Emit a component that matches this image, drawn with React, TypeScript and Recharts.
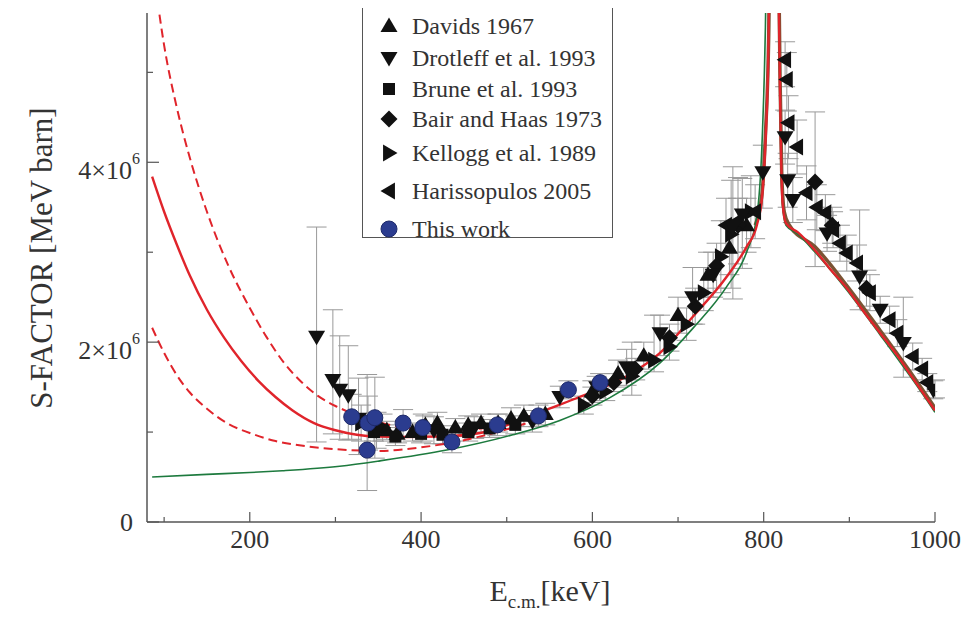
import React from "react";
import { ComposedChart, Line, Scatter, XAxis, YAxis, ErrorBar } from "recharts";

// ---------- data (S in units of 10^6 MeV b, E in keV) ----------
const X_TICKS = [100, 200, 300, 400, 500, 600, 700, 800, 900, 1000];
const X_LABELED = [200, 400, 600, 800, 1000];
const Y_TICKS = [0, 1, 2, 3, 4, 5];
const Y_LABELS: Record<number, string> = { 0: "0", 2: "2×10", 4: "4×10" };

const centralCurve = [
  [86, 3.84], [100, 3.45], [115, 3.08], [130, 2.74], [150, 2.36], [170, 2.05], [190, 1.79],
  [210, 1.57], [230, 1.39], [250, 1.24], [275, 1.1], [300, 1.02], [325, 0.97], [350, 0.95],
  [380, 0.945], [420, 0.95], [469, 0.99], [507, 1.1], [547, 1.25], [585, 1.39], [640, 1.62],
  [679, 1.88], [717, 2.28], [757, 2.73], [780, 3.06], [792, 3.3], [798, 3.6], [802, 4.2],
  [805, 5.0], [808, 6.8], [811, 9.0], [815, 8.0], [818, 5.5], [820, 4.2], [822, 3.55],
  [826, 3.32], [840, 3.22], [860, 3.02], [877, 2.82], [897, 2.6], [916, 2.35], [936, 2.1],
  [956, 1.85], [974, 1.6], [1000, 1.24],
];
const upperCurve = [
  [90, 5.95], [100, 5.3], [115, 4.6], [130, 4.05], [150, 3.45], [175, 2.85], [200, 2.38],
  [220, 2.05], [240, 1.77], [260, 1.56], [280, 1.4], [300, 1.29], [325, 1.19], [350, 1.11],
  [380, 1.05], [420, 1.02], [460, 1.03], [500, 1.1],
];
const lowerCurve = [
  [86, 2.16], [100, 1.88], [115, 1.63], [130, 1.44], [150, 1.26], [175, 1.09], [200, 0.99],
  [230, 0.9], [260, 0.85], [300, 0.81], [350, 0.79], [400, 0.83], [450, 0.91], [500, 1.03],
  [530, 1.12],
];
const greenCurve = [
  [86, 0.5], [150, 0.53], [200, 0.55], [238, 0.57], [305, 0.62], [352, 0.68], [430, 0.8],
  [507, 0.97], [562, 1.13], [620, 1.38], [679, 1.77], [717, 2.15], [757, 2.62], [780, 3.0],
  [792, 3.4], [798, 4.2], [802, 5.5], [805, 7.5], [808, 9], [814, 9], [818, 5.5], [820, 4.1],
  [822, 3.52], [826, 3.3], [840, 3.2], [860, 3.0], [897, 2.58], [936, 2.08], [974, 1.58],
  [1000, 1.22],
];
const brownCurve = [
  [790, 3.3], [798, 3.65], [802, 4.3], [806, 5.5], [809, 8], [812, 9.5], [816, 7.5],
  [819, 5.0], [821, 3.9], [824, 3.45], [830, 3.3], [860, 3.06], [897, 2.63], [936, 2.13],
  [974, 1.63], [1000, 1.27],
];

// points: [E, S, errMinus, errPlus]
const davids = [
  [360, 1.02, 0.1, 0.1], [372, 0.98, 0.1, 0.1], [390, 1.0, 0.1, 0.1], [405, 1.08, 0.1, 0.1],
  [419, 1.1, 0.12, 0.12], [440, 1.05, 0.1, 0.1], [455, 1.08, 0.1, 0.1], [470, 1.1, 0.1, 0.1],
  [490, 1.1, 0.1, 0.1], [505, 1.15, 0.12, 0.12], [520, 1.18, 0.12, 0.12], [545, 1.2, 0.12, 0.12],
  [600, 1.45, 0.12, 0.12], [630, 1.65, 0.15, 0.15], [660, 1.85, 0.15, 0.15], [700, 2.3, 0.2, 0.2],
  [735, 2.75, 0.25, 0.25], [760, 3.05, 0.3, 0.3], [780, 3.3, 0.3, 0.3],
];
const drotleff = [
  [278, 2.06, 1.17, 1.22], [297, 1.58, 0.6, 0.78], [305, 1.47, 0.55, 0.6], [315, 1.41, 0.5, 0.55],
  [327, 1.15, 0.4, 0.45], [348, 1.02, 0.2, 0.2], [415, 1.02, 0.15, 0.15], [462, 1.05, 0.12, 0.12],
  [530, 1.12, 0.12, 0.12], [562, 1.39, 0.12, 0.12], [605, 1.5, 0.12, 0.12], [640, 1.72, 0.2, 0.2],
  [679, 2.1, 0.25, 0.2], [717, 2.5, 0.3, 0.33], [741, 2.75, 0.25, 0.25], [764, 3.28, 0.8, 0.67],
  [775, 3.42, 0.6, 0.4], [799, 3.89, 0.4, 0.3], [825, 4.28, 0.3, 0.3], [828, 3.8, 0.3, 0.3],
  [834, 3.58, 0.25, 0.25], [874, 3.21, 0.2, 0.2], [912, 2.73, 0.37, 0.74], [936, 2.36, 0.15, 0.15],
  [963, 1.99, 0.38, 0.51], [998, 1.47, 0.1, 0.1],
];
const brune = [
  [345, 1.0, 0.1, 0.1], [370, 0.95, 0.1, 0.1], [400, 0.98, 0.1, 0.1], [425, 0.97, 0.1, 0.1],
  [455, 1.0, 0.1, 0.1], [480, 1.04, 0.1, 0.1], [510, 1.08, 0.1, 0.1],
];
const bairHaas = [
  [600, 1.4, 0.1, 0.1], [625, 1.55, 0.1, 0.1], [650, 1.7, 0.12, 0.12], [690, 2.05, 0.15, 0.15],
  [720, 2.4, 0.2, 0.2], [745, 2.85, 0.25, 0.25], [770, 3.3, 0.3, 0.3], [860, 3.78, 0.94, 0.78],
  [880, 3.3, 0.2, 0.2], [920, 2.6, 0.2, 0.2],
];
const kellogg = [
  [330, 1.1, 0.2, 0.2], [355, 1.05, 0.15, 0.15], [590, 1.3, 0.1, 0.1], [615, 1.45, 0.1, 0.1],
  [646, 1.62, 0.21, 0.38], [672, 1.8, 0.13, 0.5], [690, 1.95, 0.15, 0.15], [710, 2.2, 0.18, 0.18],
  [730, 2.55, 0.2, 0.28], [750, 2.95, 0.4, 0.4], [762, 3.2, 0.6, 0.6], [785, 3.45, 0.4, 0.4],
];
const harissopulos = [
  [756, 3.3, 0.3, 0.3], [770, 3.35, 0.48, 0.48], [790, 3.45, 0.3, 0.3], [825, 5.14, 0.3, 0.2],
  [827, 4.92, 0.35, 0.3], [829, 4.44, 0.4, 0.3], [839, 4.17, 0.3, 0.3], [850, 3.66, 0.3, 0.3],
  [862, 3.5, 0.25, 0.25], [872, 3.44, 0.2, 0.2], [881, 3.25, 0.2, 0.2], [889, 3.1, 0.2, 0.2],
  [897, 2.99, 0.2, 0.2], [909, 2.88, 0.2, 0.2], [924, 2.55, 0.2, 0.2], [947, 2.25, 0.15, 0.15],
  [956, 2.1, 0.15, 0.15], [974, 1.84, 0.15, 0.15], [985, 1.7, 0.12, 0.12], [991, 1.55, 0.1, 0.1],
  [1000, 1.48, 0.1, 0.1],
];
const thisWork = [
  [319, 1.17, 0.25, 0.25], [338, 1.1, 0.3, 0.3], [346, 1.16, 0.45, 0.45], [337, 0.8, 0.45, 0.84],
  [379, 1.1, 0.15, 0.15], [402, 1.05, 0.15, 0.15], [436, 0.89, 0.12, 0.12], [489, 1.08, 0.12, 0.12],
  [537, 1.18, 0.12, 0.12], [572, 1.47, 0.1, 0.1], [609, 1.55, 0.1, 0.1],
];

const LEGEND_ITEMS = [
  { name: "Davids 1967", kind: "up" },
  { name: "Drotleff et al. 1993", kind: "down" },
  { name: "Brune et al. 1993", kind: "square" },
  { name: "Bair and Haas 1973", kind: "diamond" },
  { name: "Kellogg et al. 1989", kind: "right" },
  { name: "Harissopulos 2005", kind: "left" },
  { name: "This work", kind: "circle" },
];

// ---------- helpers ----------
const toLine = (arr: number[][]) => arr.map(([x, y]) => ({ x, y }));
const toPts = (arr: number[][]) => arr.map(([x, y, lo, hi]) => ({ x, y, e: [lo, hi] }));

const FONT = "'Liberation Serif', 'Times New Roman', serif";
const RED = "#e0242b";
const AXIS = "#555";
const ERR = "#999";

function Marker({ kind, cx, cy }: { kind: string; cx: number; cy: number }) {
  const s = 8.5;
  const fill = "#111";
  switch (kind) {
    case "up":
      return <polygon points={`${cx},${cy - s} ${cx + s},${cy + s * 0.7} ${cx - s},${cy + s * 0.7}`} fill={fill} />;
    case "down":
      return <polygon points={`${cx},${cy + s} ${cx + s},${cy - s * 0.7} ${cx - s},${cy - s * 0.7}`} fill={fill} />;
    case "right":
      return <polygon points={`${cx + s},${cy} ${cx - s * 0.7},${cy - s} ${cx - s * 0.7},${cy + s}`} fill={fill} />;
    case "left":
      return <polygon points={`${cx - s},${cy} ${cx + s * 0.7},${cy - s} ${cx + s * 0.7},${cy + s}`} fill={fill} />;
    case "square":
      return <rect x={cx - 6} y={cy - 6} width={12} height={12} fill={fill} />;
    case "diamond":
      return <polygon points={`${cx},${cy - s} ${cx + s},${cy} ${cx},${cy + s} ${cx - s},${cy}`} fill={fill} />;
    default:
      return <circle cx={cx} cy={cy} r={8} fill="#2b3c8f" stroke="#1e2a6a" strokeWidth={1} />;
  }
}

const shapeOf = (kind: string) => (p: any) => <Marker kind={kind} cx={p.cx} cy={p.cy} />;

function XTick(props: any) {
  const { x, y, payload } = props;
  const v = payload.value;
  const major = X_LABELED.includes(v);
  return (
    <g>
      <line x1={x} x2={x} y1={y} y2={y - (major ? 10 : 5)} stroke={AXIS} strokeWidth={1.2} />
      {major && (
        <text x={x} y={y + 26} textAnchor="middle" fontFamily={FONT} fontSize={26} fill="#333">
          {v}
        </text>
      )}
    </g>
  );
}

function YTick(props: any) {
  const { x, y, payload } = props;
  const v = payload.value;
  const lab = Y_LABELS[v];
  const major = v % 2 === 0;
  return (
    <g>
      <line x1={x} x2={x + (major ? 12 : 6)} y1={y} y2={y} stroke={AXIS} strokeWidth={1.2} />
      {lab !== undefined && (
        v === 0 ? (
          <text x={x - 14} y={y + 9} textAnchor="end" fontFamily={FONT} fontSize={26} fill="#333">0</text>
        ) : (
          <text x={x - 7} y={y + 17} textAnchor="end" fontFamily={FONT} fontSize={26} fill="#333">
            {lab}
            <tspan dy={-15} fontSize={16}>6</tspan>
          </text>
        )
      )}
    </g>
  );
}

function RTick(props: any) {
  const { x, y } = props;
  return <line x1={x} x2={x - 6} y1={y} y2={y} stroke={AXIS} strokeWidth={1.2} />;
}

export default function App() {
  const W = 958;
  const H = 604;
  return (
    <div style={{ position: "relative", width: W, height: H, fontFamily: FONT }}>
      <ComposedChart width={W} height={H} margin={{ top: 5, right: 31, bottom: 0, left: 0 }}>
        <XAxis
          dataKey="x"
          type="number"
          domain={[80, 1000]}
          ticks={X_TICKS}
          allowDataOverflow
          height={90}
          tickSize={0}
          tickMargin={0}
          tickLine={false}
          tick={<XTick />}
          axisLine={{ stroke: AXIS, strokeWidth: 1.5 }}
          interval={0}
        />
        <YAxis
          type="number"
          domain={[0, 5.66]}
          ticks={Y_TICKS}
          allowDataOverflow
          width={139}
          tickSize={0}
          tickMargin={0}
          tickLine={false}
          tick={<YTick />}
          axisLine={{ stroke: AXIS, strokeWidth: 1.5 }}
          interval={0}
        />
        <YAxis
          yAxisId="r"
          orientation="right"
          type="number"
          domain={[0, 5.66]}
          ticks={Y_TICKS}
          allowDataOverflow
          width={0}
          tickSize={0}
          tickMargin={0}
          tickLine={false}
          tick={<RTick />}
          axisLine={{ stroke: AXIS, strokeWidth: 1.5 }}
          interval={0}
        />

        <Scatter data={toPts(davids)} dataKey="y" shape={shapeOf("up")} isAnimationActive={false}>
          <ErrorBar dataKey="e" direction="y" width={10} stroke={ERR} strokeWidth={1} />
        </Scatter>
        <Scatter data={toPts(brune)} dataKey="y" shape={shapeOf("square")} isAnimationActive={false}>
          <ErrorBar dataKey="e" direction="y" width={10} stroke={ERR} strokeWidth={1} />
        </Scatter>
        <Scatter data={toPts(kellogg)} dataKey="y" shape={shapeOf("right")} isAnimationActive={false}>
          <ErrorBar dataKey="e" direction="y" width={10} stroke={ERR} strokeWidth={1} />
        </Scatter>
        <Scatter data={toPts(bairHaas)} dataKey="y" shape={shapeOf("diamond")} isAnimationActive={false}>
          <ErrorBar dataKey="e" direction="y" width={10} stroke={ERR} strokeWidth={1} />
        </Scatter>
        <Scatter data={toPts(harissopulos)} dataKey="y" shape={shapeOf("left")} isAnimationActive={false}>
          <ErrorBar dataKey="e" direction="y" width={10} stroke={ERR} strokeWidth={1} />
        </Scatter>
        <Scatter data={toPts(drotleff)} dataKey="y" shape={shapeOf("down")} isAnimationActive={false}>
          <ErrorBar dataKey="e" direction="y" width={10} stroke={ERR} strokeWidth={1} />
        </Scatter>
        <Scatter data={toPts(thisWork)} dataKey="y" shape={shapeOf("circle")} isAnimationActive={false}>
          <ErrorBar dataKey="e" direction="y" width={10} stroke={ERR} strokeWidth={1} />
        </Scatter>

        <Line data={toLine(brownCurve)} dataKey="y" type="monotone" stroke="#7a5434" strokeWidth={3.5} dot={false} isAnimationActive={false} />
        <Line data={toLine(greenCurve)} dataKey="y" type="monotone" stroke="#1d7a3e" strokeWidth={1.6} dot={false} isAnimationActive={false} />
        <Line data={toLine(upperCurve)} dataKey="y" type="monotone" stroke={RED} strokeWidth={2} strokeDasharray="9 5" dot={false} isAnimationActive={false} />
        <Line data={toLine(lowerCurve)} dataKey="y" type="monotone" stroke={RED} strokeWidth={2} strokeDasharray="9 5" dot={false} isAnimationActive={false} />
        <Line data={toLine(centralCurve)} dataKey="y" type="monotone" stroke={RED} strokeWidth={2.4} dot={false} isAnimationActive={false} />
      </ComposedChart>

      {/* legend */}
      <div
        style={{
          position: "absolute",
          left: 354,
          top: -14,
          width: 251,
          height: 244,
          border: `1.5px solid ${AXIS}`,
          background: "#fff",
          boxSizing: "border-box",
        }}
      >
        {LEGEND_ITEMS.map((it, i) => {
          const rowTops = [17, 49, 80, 110, 144, 182, 220];
          return (
            <div key={it.name} style={{ position: "absolute", left: 0, top: rowTops[i], height: 28, display: "flex", alignItems: "center" }}>
              <svg width={40} height={28} style={{ marginLeft: 6 }}>
                <Marker kind={it.kind} cx={20} cy={14} />
              </svg>
              <span style={{ fontSize: 24, color: "#333", marginLeft: 3, whiteSpace: "nowrap" }}>{it.name}</span>
            </div>
          );
        })}
      </div>

      {/* axis titles */}
      <div
        style={{
          position: "absolute",
          left: 34,
          top: 250,
          transform: "translate(-50%, -50%) rotate(-90deg)",
          fontSize: 31,
          color: "#333",
          whiteSpace: "nowrap",
        }}
      >
        S-FACTOR [MeV barn]
      </div>
      <div
        style={{
          position: "absolute",
          left: 542,
          top: 585,
          transform: "translate(-50%, -50%)",
          fontSize: 30,
          color: "#333",
          whiteSpace: "nowrap",
        }}
      >
        E<sub style={{ fontSize: 19 }}>c.m.</sub>[keV]
      </div>
    </div>
  );
}
